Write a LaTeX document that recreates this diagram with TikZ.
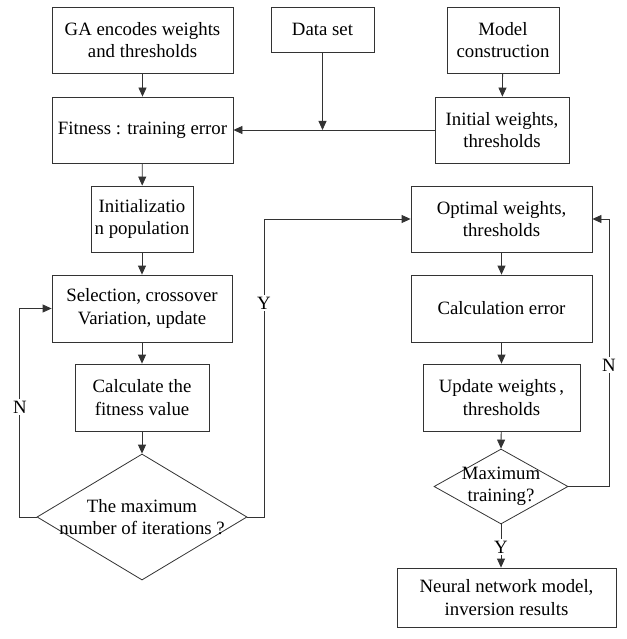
\documentclass[tikz,border=0pt]{standalone}
\usepackage{fontspec}
\setmainfont{Liberation Serif}
\usetikzlibrary{arrows.meta,shapes.geometric}
\begin{document}
\begin{tikzpicture}[x=1pt,y=-1pt,
  font=\fontsize{18.8}{22.5}\selectfont,
  box/.style={draw=black!80,line width=0.8pt,align=center,inner sep=0pt},
  dia/.style={diamond,draw=black!80,line width=0.8pt,inner sep=0pt},
  arr/.style={-{Triangle[length=9pt,width=8pt]},draw=black!80,line width=0.8pt},
  lab/.style={fill=white,inner sep=1.5pt}]
\useasboundingbox (0,0) rectangle (626,639);
% left column
\node[box,minimum width=181,minimum height=66] (ga) at (142.5,40) {GA encodes weights\\and thresholds};
\node[box,minimum width=103,minimum height=45] (data) at (322.5,29.5) {Data set};
\node[box,minimum width=112,minimum height=66] (model) at (503,40) {Model\\construction};
\node[box,minimum width=181,minimum height=66] (fit) at (142.5,130) {Fitness : training error};
\node[box,minimum width=134,minimum height=66] (init) at (502,130) {Initial weights,\\thresholds};
\node[box,minimum width=102,minimum height=66] (pop) at (142,219) {Initializatio\\n population};
\node[box,minimum width=180,minimum height=67] (sel) at (142,308.5) {Selection, crossover\\Variation, update};
\node[box,minimum width=134,minimum height=67] (calc) at (142,397.5) {Calculate the\\fitness value};
\node[dia,minimum width=210,minimum height=126] (d1) at (142,517) {};
\node[align=center,inner sep=0pt] (d1t) at (142,517) {The maximum\\number of iterations ?};
% right column
\node[box,minimum width=181,minimum height=66] (opt) at (501.5,219) {Optimal weights,\\thresholds};
\node[box,minimum width=181,minimum height=67] (cerr) at (501.5,308.5) {Calculation error};
\node[box,minimum width=157,minimum height=67] (upd) at (501.5,397.5) {Update weights\,,\hspace{0.6em}\\thresholds};
\node[dia,minimum width=134,minimum height=75] (d2) at (501,486.5) {};
\node[align=center,inner sep=0pt] (d2t) at (501,486.5) {Maximum\\training?};
\node[box,minimum width=219,minimum height=59] (fin) at (506.5,597.5) {Neural network model,\\inversion results};
% connectors
\draw[arr] (ga) -- (fit);
\draw[arr] (model) -- (init);
\draw[arr] (init) -- (fit);
\draw[arr] (data.south) -- (data.south |- fit.east);
\draw[arr] (fit) -- (pop);
\draw[arr] (pop) -- (sel);
\draw[arr] (sel) -- (calc);
\draw[arr] (calc) -- (d1.north);
\draw[arr] (d1.west) -- ++(-17,0) |- (sel.west);
\draw[arr] (d1.east) -- ++(17,0) |- (opt.west);
\draw[arr] (opt) -- (cerr);
\draw[arr] (cerr) -- (upd);
\draw[arr] (upd) -- (d2.north);
\draw[arr] (d2.east) -- ++(41,0) |- (opt.east);
\draw[arr] (d2.south) -- (d2.south |- fin.north);
% labels
\node[lab] (nl) at (20,407) {N};
\node[lab] (yl) at (264,303) {Y};
\node[lab] (nr) at (609,365) {N};
\node[lab] (yr) at (501,547) {Y};
\end{tikzpicture}
\end{document}
